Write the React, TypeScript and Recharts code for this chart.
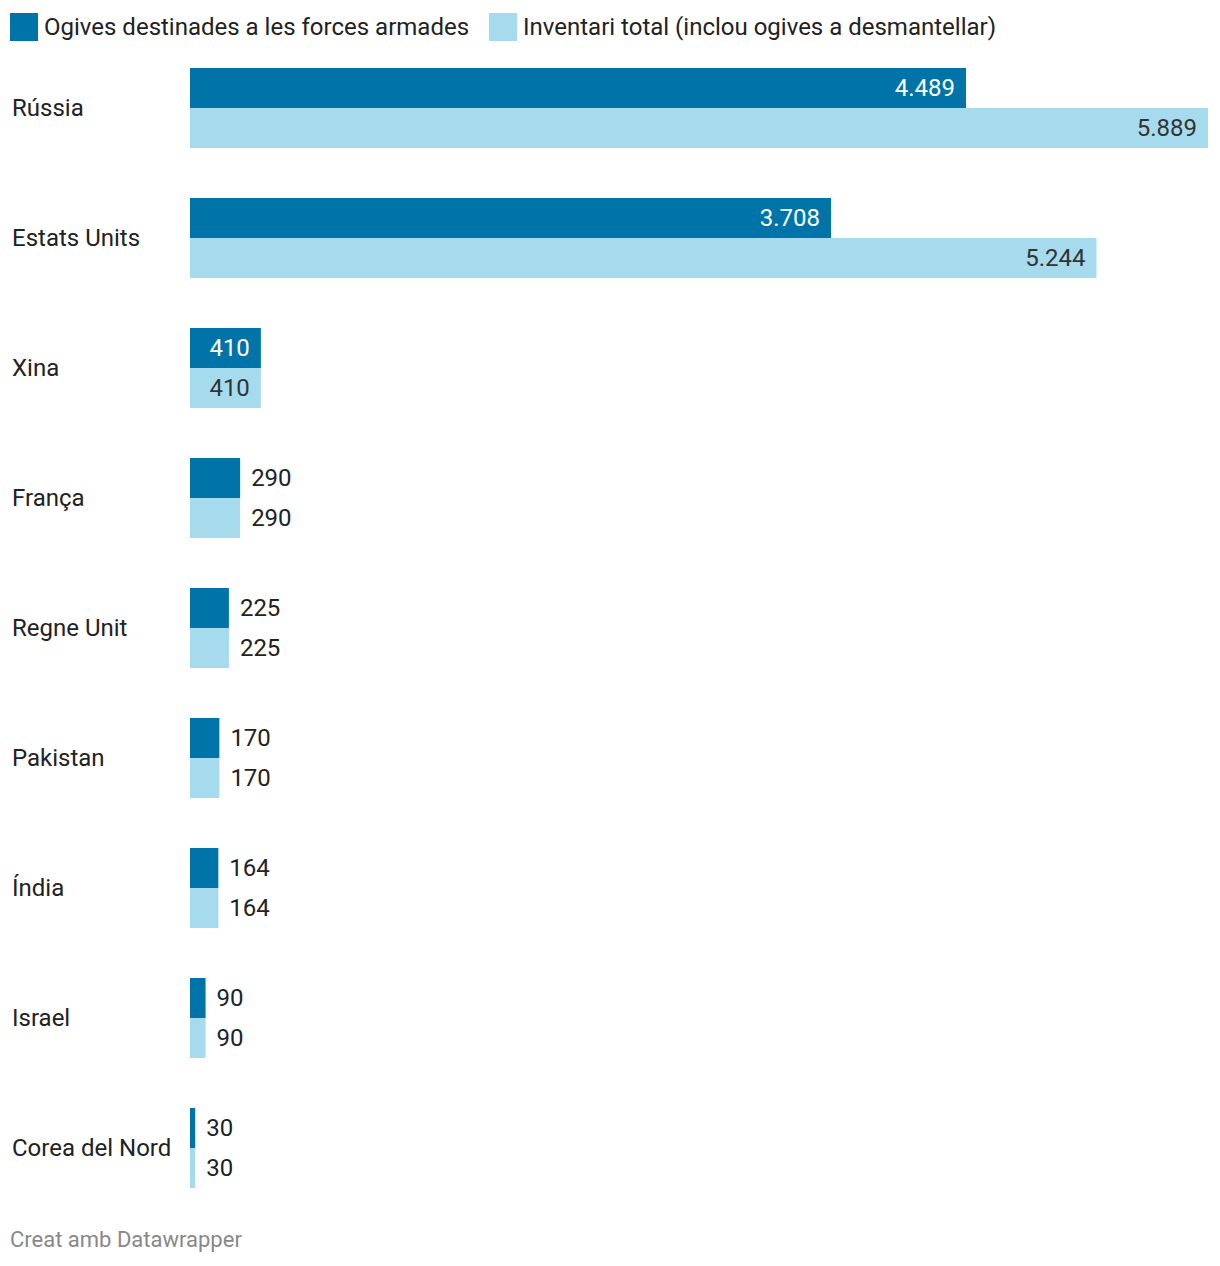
import React from "react";
import { BarChart, Bar, XAxis, YAxis, LabelList } from "recharts";

// dades
const countries = [
  "Rússia",
  "Estats Units",
  "Xina",
  "França",
  "Regne Unit",
  "Pakistan",
  "Índia",
  "Israel",
  "Corea del Nord",
];
const deployed = [4489, 3708, 410, 290, 225, 170, 164, 90, 30];
const inventory = [5889, 5244, 410, 290, 225, 170, 164, 90, 30];

const seriesNames = [
  "Ogives destinades a les forces armades",
  "Inventari total (inclou ogives a desmantellar)",
];

const colors = {
  dark: "#0074a8",
  light: "#a6dbed",
  text: "#222222",
  muted: "#888888",
};

const font = "Roboto, 'Noto Sans', sans-serif";

const data = countries.map((name, i) => ({
  name,
  deployed: deployed[i],
  inventory: inventory[i],
}));

const fmt = (v: number) => v.toLocaleString("de-DE");

// etiqueta dins o fora de la barra
const makeLabel = (inside: string) => (props: any) => {
  const { x, y, width, height, value } = props;
  const text = fmt(value);
  const fits = width > text.length * 13.3 + 20;
  return (
    <text
      x={fits ? x + width - 11 : x + width + 11}
      y={y + height / 2}
      dy="0.35em"
      textAnchor={fits ? "end" : "start"}
      fill={fits ? inside : colors.text}
      fontSize={24}
      fontFamily={font}
    >
      {text}
    </text>
  );
};

const CountryTick = (props: any) => {
  const { y, payload } = props;
  return (
    <text
      x={12}
      y={y}
      dy="0.35em"
      textAnchor="start"
      fill={colors.text}
      fontSize={24}
      fontFamily={font}
    >
      {payload.value}
    </text>
  );
};

const Legend = () => (
  <div
    style={{
      position: "absolute",
      top: 13,
      left: 10,
      display: "flex",
      alignItems: "center",
      fontFamily: font,
      fontSize: 24,
      color: colors.text,
      lineHeight: "28px",
    }}
  >
    {seriesNames.map((s, i) => (
      <div key={s} style={{ display: "flex", alignItems: "center", marginRight: 20 }}>
        <span
          style={{
            width: 28,
            height: 28,
            background: i === 0 ? colors.dark : colors.light,
            display: "inline-block",
            marginRight: 6,
          }}
        />
        <span>{s}</span>
      </div>
    ))}
  </div>
);

export default function App() {
  return (
    <div
      style={{
        position: "absolute",
        top: 0,
        left: 0,
        width: 1220,
        height: 1266,
        background: "#fff",
      }}
    >
      <Legend />
      <BarChart
        width={1220}
        height={1266}
        data={data}
        layout="vertical"
        margin={{ top: 43, right: 12, bottom: 53, left: 0 }}
        barSize={40}
        barGap={0}
      >
        <XAxis type="number" domain={[0, 5889]} hide />
        <YAxis
          type="category"
          dataKey="name"
          width={190}
          axisLine={false}
          tickLine={false}
          tick={<CountryTick />}
          interval={0}
        />
        <Bar dataKey="deployed" fill={colors.dark} isAnimationActive={false}>
          <LabelList dataKey="deployed" content={makeLabel("#ffffff")} />
        </Bar>
        <Bar dataKey="inventory" fill={colors.light} isAnimationActive={false}>
          <LabelList dataKey="inventory" content={makeLabel("#333333")} />
        </Bar>
      </BarChart>
      <div
        style={{
          position: "absolute",
          top: 1227,
          left: 10,
          fontFamily: font,
          fontSize: 22,
          color: colors.muted,
        }}
      >
        Creat amb Datawrapper
      </div>
    </div>
  );
}
